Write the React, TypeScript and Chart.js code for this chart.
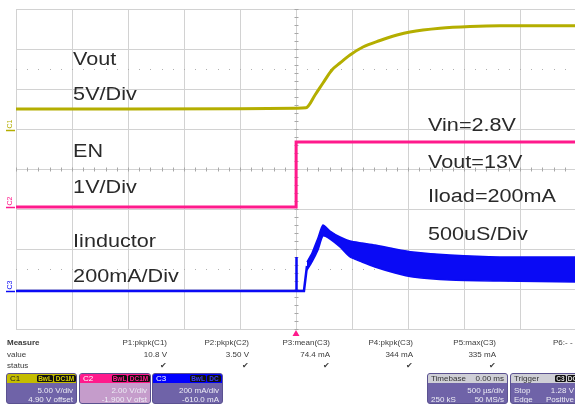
import React, { useEffect, useRef } from "react";
import { Chart, registerables } from "chart.js";

Chart.register(...registerables);

// ---------- data (time in µs, 500 µs/div, trigger at 0) ----------
const voutTime = [-2500, -1500, -500, 0, 89, 170, 241, 321, 393, 482, 598, 750, 902, 1018, 1286, 1554, 1821, 2500];
const voutVolts = [2.6, 2.6, 2.62, 2.7, 2.75, 4.35, 5.85, 7.48, 8.35, 9.35, 10.35, 11.16, 11.85, 12.23, 12.69, 12.91, 13.0, 13.0];

const enTime = [-2500, 0, 1, 2500];
const enVolts = [0, 0, 3.25, 3.25];

const ilTime = [-2500, 0, 3, 6, 71, 98];
const ilMilliamps = [0, 0, 170, 0, 0, 125];

const rippleTime = [98, 143, 196, 241, 304, 393, 482, 589, 705, 884, 1045, 1375, 1821, 2500];
const rippleHigh = [145, 190, 265, 330, 300, 270, 250, 240, 230, 210, 195, 180, 170, 170];
const rippleLow = [105, 145, 205, 275, 260, 220, 170, 145, 120, 90, 70, 55, 50, 45];

const leftNotes = ["Vout", "5V/Div", "EN", "1V/Div", "Iinductor", "200mA/Div"];
const rightNotes = ["Vin=2.8V", "Vout=13V", "Iload=200mA", "500uS/Div"];

const measureNames = ["P1:pkpk(C1)", "P2:pkpk(C2)", "P3:mean(C3)", "P4:pkpk(C3)", "P5:max(C3)"];
const measureValues = ["10.8 V", "3.50 V", "74.4 mA", "344 mA", "335 mA"];

const C1 = "#b4ae00";
const C2 = "#ff1a8c";
const C3 = "#0a0af5";

const pts = (xs: number[], ys: number[]) => xs.map((x, i) => ({ x, y: ys[i] }));

const leftNoteY = [2.6, 1.725, 0.3, -0.6, -1.95, -2.825];
const rightNoteY = [0.95, 0.025, -0.825, -1.775];

const gridPlugin = {
  id: "scopeGrid",
  beforeDatasetsDraw(chart: any) {
    const { ctx, chartArea, scales } = chart;
    const { left, right, top, bottom } = chartArea;
    const xs = scales.x;
    const yd = scales.yDiv;
    ctx.save();
    ctx.strokeStyle = "#d2d2d2";
    ctx.lineWidth = 1;
    ctx.beginPath();
    for (let i = -5; i <= 5; i++) {
      const px = Math.round(xs.getPixelForValue(i * 500)) + 0.5;
      ctx.moveTo(px, top);
      ctx.lineTo(px, bottom);
    }
    for (let j = -4; j <= 4; j++) {
      const py = Math.round(yd.getPixelForValue(j)) + 0.5;
      ctx.moveTo(left, py);
      ctx.lineTo(right, py);
    }
    ctx.stroke();
    const cx = Math.round(xs.getPixelForValue(0)) + 0.5;
    const cy = Math.round(yd.getPixelForValue(0)) + 0.5;
    ctx.strokeStyle = "#a8a8a8";
    ctx.beginPath();
    for (let k = -25; k <= 25; k++) {
      const px = Math.round(xs.getPixelForValue(k * 100)) + 0.5;
      ctx.moveTo(px, cy - 2);
      ctx.lineTo(px, cy + 2);
    }
    for (let k = -20; k <= 20; k++) {
      const py = Math.round(yd.getPixelForValue(k * 0.2)) + 0.5;
      ctx.moveTo(cx - 2, py);
      ctx.lineTo(cx + 2, py);
    }
    ctx.stroke();
    ctx.fillStyle = "#b0b0b0";
    [2.5, -2.5].forEach((d) => {
      const py = Math.round(yd.getPixelForValue(d));
      for (let k = -25; k <= 25; k++) {
        const px = Math.round(xs.getPixelForValue(k * 100));
        ctx.fillRect(px, py, 1, 1);
      }
    });
    ctx.restore();
  },
  afterDatasetsDraw(chart: any) {
    const { ctx, scales, chartArea } = chart;
    const xs = scales.x;
    const yd = scales.yDiv;
    ctx.save();
    ctx.fillStyle = "#2a2a2a";
    ctx.font = '18px "Liberation Sans", Arial, sans-serif';
    ctx.textBaseline = "alphabetic";
    const sx = 1.2;
    const drawNote = (t: string, xv: number, yv: number) => {
      const px = xs.getPixelForValue(xv);
      const py = yd.getPixelForValue(yv);
      ctx.save();
      ctx.translate(px, py);
      ctx.scale(sx, 1);
      ctx.fillText(t, 0, 0);
      ctx.restore();
    };
    leftNotes.forEach((t, i) => drawNote(t, -1990, leftNoteY[i]));
    rightNotes.forEach((t, i) => drawNote(t, 1179, rightNoteY[i]));

    const marks: [string, any, string][] = [
      ["C1", scales.y1, C1],
      ["C2", scales.y2, C2],
      ["C3", scales.y3, C3],
    ];
    ctx.font = '7px "Liberation Sans", Arial, sans-serif';
    marks.forEach(([lbl, sc, col]) => {
      const py = Math.round(sc.getPixelForValue(0)) + 0.5;
      ctx.strokeStyle = col;
      ctx.lineWidth = 1.5;
      ctx.beginPath();
      ctx.moveTo(6, py);
      ctx.lineTo(15, py);
      ctx.stroke();
      ctx.save();
      ctx.translate(12, py - 2);
      ctx.rotate(-Math.PI / 2);
      ctx.fillStyle = col;
      ctx.textBaseline = "alphabetic";
      ctx.fillText(lbl, 0, 0);
      ctx.restore();
    });

    const tx = xs.getPixelForValue(0);
    const by = chartArea.bottom;
    ctx.fillStyle = C2;
    ctx.beginPath();
    ctx.moveTo(tx - 3.5, by + 7);
    ctx.lineTo(tx + 3.5, by + 7);
    ctx.lineTo(tx, by + 1);
    ctx.closePath();
    ctx.fill();
    ctx.restore();
  },
};

type TxtProps = { x: number; y: number; right?: boolean; bold?: boolean; color?: string; children: React.ReactNode };
const Txt = ({ x, y, right, bold, color, children }: TxtProps) => (
  <div
    style={{
      position: "absolute",
      top: y,
      ...(right ? { right: 575 - x } : { left: x }),
      fontSize: 8,
      lineHeight: "9px",
      whiteSpace: "nowrap",
      fontWeight: bold ? "bold" : "normal",
      color: color ?? "#3a3a3a",
    }}
  >
    {children}
  </div>
);

const Tag = ({ x, w, color, children }: { x: number; w: number; color: string; children: React.ReactNode }) => (
  <div
    style={{
      position: "absolute",
      left: x,
      top: 1,
      width: w,
      height: 7,
      background: "#111",
      color,
      fontSize: 6.5,
      lineHeight: "7px",
      textAlign: "center",
      borderRadius: 1.5,
      fontWeight: "bold",
    }}
  >
    {children}
  </div>
);

type BoxProps = {
  x: number;
  w: number;
  head: string;
  body: string;
  headContent: React.ReactNode;
  rows: [string, string][];
  textColor?: string;
};
const Box = ({ x, w, head, body, headContent, rows, textColor }: BoxProps) => (
  <div
    style={{
      position: "absolute",
      left: x,
      top: 373,
      width: w,
      height: 31,
      background: body,
      borderRadius: 3,
      border: "1px solid #5b5290",
      overflow: "hidden",
      boxSizing: "border-box",
    }}
  >
    <div style={{ position: "absolute", left: 0, top: 0, right: 0, height: 9, background: head }}>{headContent}</div>
    {rows.map((r, i) => (
      <div
        key={i}
        style={{
          position: "absolute",
          left: 3,
          right: 3,
          top: 12 + i * 9,
          fontSize: 8,
          lineHeight: "9px",
          color: textColor ?? "#ececf4",
          display: "flex",
          justifyContent: "space-between",
          whiteSpace: "nowrap",
        }}
      >
        <span>{r[0]}</span>
        <span>{r[1]}</span>
      </div>
    ))}
  </div>
);

const HeadTxt = ({ x, color, children, right }: { x: number; color: string; children: React.ReactNode; right?: boolean }) => (
  <div
    style={{
      position: "absolute",
      top: 0,
      ...(right ? { right: x } : { left: x }),
      fontSize: 8,
      lineHeight: "9px",
      color,
      whiteSpace: "nowrap",
    }}
  >
    {children}
  </div>
);

const measureRight = [167, 249, 330, 413, 496];

export default function App() {
  const ref = useRef<HTMLCanvasElement>(null);

  useEffect(() => {
    const canvas = ref.current;
    if (!canvas) return;
    const chart = new Chart(canvas, {
      type: "line",
      data: {
        datasets: [
          {
            data: pts(enTime, enVolts),
            yAxisID: "y2",
            borderColor: C2,
            borderWidth: 3,
            pointRadius: 0,
            tension: 0,
          },
          {
            data: pts(ilTime, ilMilliamps),
            yAxisID: "y3",
            borderColor: C3,
            borderWidth: 2.5,
            pointRadius: 0,
            tension: 0,
          },
          {
            data: pts(rippleTime, rippleLow),
            yAxisID: "y3",
            borderColor: C3,
            borderWidth: 1.5,
            pointRadius: 0,
            tension: 0.2,
            fill: false,
          },
          {
            data: pts(rippleTime, rippleHigh),
            yAxisID: "y3",
            borderColor: C3,
            backgroundColor: C3,
            borderWidth: 1.5,
            pointRadius: 0,
            tension: 0.2,
            fill: "-1",
          },
          {
            data: pts(voutTime, voutVolts),
            yAxisID: "y1",
            borderColor: C1,
            borderWidth: 3,
            pointRadius: 0,
            cubicInterpolationMode: "monotone",
          },
        ],
      } as any,
      options: {
        responsive: false,
        animation: false,
        events: [],
        layout: { padding: { left: 16, top: 9, right: 1, bottom: 11 } },
        plugins: { legend: { display: false }, tooltip: { enabled: false }, title: { display: false } },
        scales: {
          x: { type: "linear", min: -2500, max: 2500, display: false },
          y1: { type: "linear", axis: "y", min: -24.9, max: 15.1, display: false },
          y2: { type: "linear", axis: "y", min: -6.1, max: 9.9, display: false },
          y3: { type: "linear", axis: "y", min: -190, max: 1410, display: false },
          yDiv: { type: "linear", axis: "y", min: -4, max: 4, display: false },
        },
      } as any,
      plugins: [gridPlugin],
    });
    return () => chart.destroy();
  }, []);

  return (
    <div
      style={{
        position: "fixed",
        left: 0,
        top: 0,
        width: 575,
        height: 405,
        overflow: "hidden",
        background: "#ffffff",
        fontFamily: '"Liberation Sans", Arial, sans-serif',
      }}
    >
      <canvas ref={ref} width={577} height={340} style={{ position: "absolute", left: 0, top: 0 }} />

      <Txt x={7} y={338} bold>Measure</Txt>
      <Txt x={7} y={350}>value</Txt>
      <Txt x={7} y={361}>status</Txt>
      {measureNames.map((n, i) => (
        <Txt key={"n" + i} x={measureRight[i]} y={338} right>{n}</Txt>
      ))}
      {measureValues.map((v, i) => (
        <Txt key={"v" + i} x={measureRight[i]} y={350} right>{v}</Txt>
      ))}
      {measureValues.map((_, i) => (
        <Txt key={"c" + i} x={measureRight[i]} y={361} right>✔</Txt>
      ))}
      <Txt x={553} y={338}>P6:- - -</Txt>

      <Box
        x={6}
        w={71}
        head="#c4bc00"
        body="#6f63a8"
        headContent={
          <>
            <HeadTxt x={3} color="#222">C1</HeadTxt>
            <Tag x={30} w={16} color="#d8d000">BwL</Tag>
            <Tag x={47} w={22} color="#d8d000">DC1M</Tag>
          </>
        }
        rows={[["", "5.00 V/div"], ["", "4.90 V offset"]]}
      />
      <Box
        x={79}
        w={72}
        head={C2}
        body="#c59ccb"
        headContent={
          <>
            <HeadTxt x={3} color="#fff">C2</HeadTxt>
            <Tag x={32} w={15} color={C2}>BwL</Tag>
            <Tag x={48} w={22} color={C2}>DC1M</Tag>
          </>
        }
        rows={[["", "2.00 V/div"], ["", "-1.900 V ofst"]]}
      />
      <Box
        x={152}
        w={71}
        head="#0000ff"
        body="#6f63a8"
        headContent={
          <>
            <HeadTxt x={3} color="#fff">C3</HeadTxt>
            <Tag x={37} w={16} color="#3a3aff">BwL</Tag>
            <Tag x={54} w={14} color="#3a3aff">DC</Tag>
          </>
        }
        rows={[["", "200 mA/div"], ["", "-610.0 mA"]]}
      />
      <Box
        x={427}
        w={81}
        head="#cfcfd6"
        body="#6f63a8"
        headContent={
          <>
            <HeadTxt x={3} color="#333">Timebase</HeadTxt>
            <HeadTxt x={3} color="#333" right>0.00 ms</HeadTxt>
          </>
        }
        rows={[["", "500 µs/div"], ["250 kS", "50 MS/s"]]}
      />
      <Box
        x={510}
        w={68}
        head="#cfcfd6"
        body="#6f63a8"
        headContent={
          <>
            <HeadTxt x={3} color="#333">Trigger</HeadTxt>
            <Tag x={44} w={11} color="#ddd">C3</Tag>
            <Tag x={56} w={11} color="#ddd">DC</Tag>
          </>
        }
        rows={[["Stop", "1.28 V"], ["Edge", "Positive"]]}
      />
    </div>
  );
}
